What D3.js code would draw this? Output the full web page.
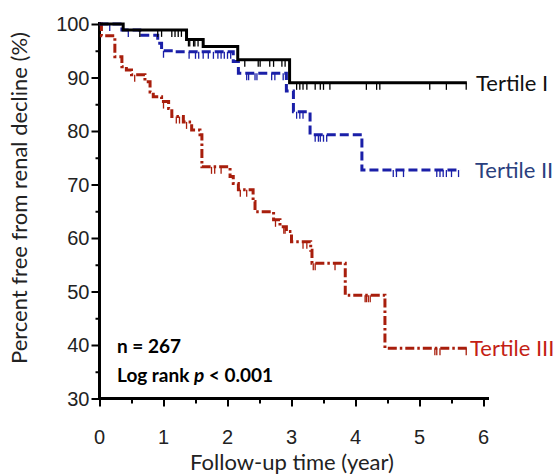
<!DOCTYPE html>
<html>
<head>
<meta charset="utf-8">
<script src="https://cdn.jsdelivr.net/npm/d3@7"></script>
<style>
  body { margin: 0; background: #fff; }
  text { font-family: Lato, "Open Sans", sans-serif; }
</style>
</head>
<body>
<svg id="grafico" width="556" height="475"></svg>
<script>
// Curvas de Kaplan-Meier: [tempo (anos), sobrevida (%)] nos degraus
var tercilI = [[0, 100], [0.37, 98.9], [1.36, 97.1], [1.62, 95.8], [2.16, 93.3], [2.97, 89.0], [5.74, 89.0]];
var tercilII = [[0, 100], [0.35, 98.9], [0.63, 97.9], [0.91, 96.4], [0.97, 95.0], [1.18, 94.8], [2.09, 93.0],
    [2.17, 90.8], [2.92, 87.5], [3.03, 83.6], [3.29, 79.3], [4.10, 72.7], [5.64, 72.7]];
var tercilIII = [[0, 100], [0.03, 97.8], [0.24, 93.9], [0.35, 92.0], [0.42, 91.4], [0.50, 90.5], [0.71, 89.2],
    [0.79, 87.3], [0.84, 86.4], [0.97, 85.5], [1.08, 84.2], [1.13, 82.7], [1.31, 81.7], [1.44, 80.2], [1.57, 79.3],
    [1.60, 73.3], [2.04, 71.5], [2.09, 70.2], [2.17, 69.0], [2.40, 66.8], [2.43, 64.9], [2.72, 63.4], [2.82, 62.1],
    [2.92, 61.2], [3.00, 59.3], [3.30, 57.7], [3.32, 55.3], [3.84, 49.3], [4.46, 39.4], [5.74, 39.4]];

// Tempos de censura
var censuraI = [0.63, 0.91, 0.97, 1.13, 1.18, 1.23, 1.28, 1.39, 1.41, 1.47, 1.49, 1.54, 2.27, 2.48, 2.51, 2.66,
    2.72, 2.85, 2.90, 3.08, 3.13, 3.18, 3.24, 3.37, 3.45, 3.50, 3.60, 4.17, 4.33, 4.38, 5.16, 5.42, 5.73];
var censuraII = [0.16, 0.45, 1.0, 1.4, 1.5, 1.55, 1.62, 1.7, 1.78, 1.85, 1.9, 1.95, 2.0, 2.05, 2.30, 2.33, 2.43,
    2.46, 2.69, 2.74, 2.87, 3.08, 3.13, 3.18, 3.37, 3.42, 3.45, 3.50, 3.55, 4.59, 4.64, 4.75, 5.27, 5.32, 5.37,
    5.42, 5.50, 5.61];
var censuraIII = [0.55, 1.0, 1.2, 1.25, 1.36, 1.75, 1.8, 1.9, 2.2, 2.3, 2.75, 2.88, 2.9, 3.18, 3.24, 3.34, 3.37,
    3.68, 4.15, 4.17, 4.2, 4.23, 5.24, 5.27, 5.32, 5.73];

var ticksX = [0, 1, 2, 3, 4, 5, 6];
var ticksY = [30, 40, 50, 60, 70, 80, 90, 100];
var rotulos = ["Tertile I", "Tertile II", "Tertile III"];

var svg = d3.select("#grafico");

var x = d3.scaleLinear().domain([0, 6]).range([99.5, 483.5]);
var y = d3.scaleLinear().domain([30, 100]).range([398.5, 24]);

// Eixos: ticks maiores e menores
var eixoX = svg.append("g").attr("transform", "translate(0,398.5)");
eixoX.call(d3.axisBottom(x).tickValues(d3.range(0, 6.01, 0.5)).tickSize(5).tickFormat(""));
eixoX.call(g => g.selectAll(".tick line").filter(d => d % 1 === 0).attr("y2", 8));
eixoX.append("line").attr("x1", x(0)).attr("x2", 489).attr("stroke", "#000").attr("stroke-width", 3);
eixoX.selectAll(".domain").remove();
eixoX.selectAll(".tick line").attr("stroke", "#000").attr("stroke-width", 2);
eixoX.selectAll("text.rot").data(ticksX).enter().append("text")
    .attr("class", "rot")
    .attr("x", d => x(d))
    .attr("y", 45)
    .attr("text-anchor", "middle")
    .style("font-family", "'Liberation Sans', Arial, sans-serif")
    .style("font-size", "20px")
    .attr("fill", "#222")
    .text(d => d);

var eixoY = svg.append("g").attr("transform", "translate(99.5,0)");
eixoY.call(d3.axisLeft(y).tickValues(d3.range(30, 100.1, 5)).tickSize(4).tickFormat(""));
eixoY.call(g => g.selectAll(".tick line").filter(d => d % 10 === 0).attr("x2", -8));
eixoY.append("line").attr("y1", 22).attr("y2", 400).attr("stroke", "#000").attr("stroke-width", 3);
eixoY.selectAll(".domain").remove();
eixoY.selectAll(".tick line").attr("stroke", "#000").attr("stroke-width", 2);
eixoY.selectAll("text.rot").data(ticksY).enter().append("text")
    .attr("class", "rot")
    .attr("x", -10)
    .attr("y", d => y(d) + 7)
    .attr("text-anchor", "end")
    .style("font-family", "'Liberation Sans', Arial, sans-serif")
    .style("font-size", "20px")
    .attr("fill", "#222")
    .text(d => d);

// Títulos dos eixos
svg.append("text")
    .attr("transform", "translate(27,198) rotate(-90)")
    .attr("text-anchor", "middle")
    .style("font-size", "22px")
    .attr("fill", "#222")
    .text("Percent free from renal decline (%)");

svg.append("text")
    .attr("x", 292)
    .attr("y", 470)
    .attr("text-anchor", "middle")
    .style("font-size", "22px")
    .attr("fill", "#222")
    .text("Follow-up time (year)");

// Valor da curva num instante (função degrau)
function valorEm(curva, t) {
    var v = curva[0][1];
    curva.forEach(function (p) { if (p[0] <= t) v = p[1]; });
    return v;
}

var linha = d3.line().x(d => x(d[0])).y(d => y(d[1])).curve(d3.curveStepAfter);

var series = [
    { dados: tercilI, censura: censuraI, cor: "#000000", traco: null },
    { dados: tercilII, censura: censuraII, cor: "#1a1fa8", traco: "9,4" },
    { dados: tercilIII, censura: censuraIII, cor: "#a81e0c", traco: "9,3,2.5,3" }
];

// Desenha do último para o primeiro, para o preto ficar por cima
series.slice().reverse().forEach(function (s) {
    svg.append("path")
        .datum(s.dados)
        .attr("d", linha)
        .attr("fill", "none")
        .attr("stroke", s.cor)
        .attr("stroke-width", 3)
        .attr("stroke-dasharray", s.traco);

    svg.append("g").selectAll("line")
        .data(s.censura)
        .enter()
        .append("line")
        .attr("x1", d => x(d))
        .attr("x2", d => x(d))
        .attr("y1", d => y(valorEm(s.dados, d)))
        .attr("y2", d => y(valorEm(s.dados, d)) + 7)
        .attr("stroke", s.cor)
        .attr("stroke-width", 1.3);
});

// Rótulos das curvas
var posRotulos = [
    { x: 476, y: valorEm(tercilI, 5.7), cor: "#111" },
    { x: 475, y: valorEm(tercilII, 5.6), cor: "#2a3f7e" },
    { x: 470, y: valorEm(tercilIII, 5.7), cor: "#c41e14" }
];
svg.selectAll("text.serie").data(rotulos).enter().append("text")
    .attr("class", "serie")
    .attr("x", (d, i) => posRotulos[i].x)
    .attr("y", (d, i) => y(posRotulos[i].y) + 8)
    .style("font-size", "22px")
    .attr("fill", (d, i) => posRotulos[i].cor)
    .text(d => d);

// Anotações
svg.append("text")
    .attr("x", 117)
    .attr("y", 353)
    .style("font-size", "19px")
    .style("font-weight", "bold")
    .text("n = 267");

var logRank = svg.append("text")
    .attr("x", 117)
    .attr("y", 382)
    .style("font-size", "19px")
    .style("font-weight", "bold");
logRank.append("tspan").text("Log rank ");
logRank.append("tspan").style("font-style", "italic").text("p");
logRank.append("tspan").text(" < 0.001");
</script>
</body>
</html>
